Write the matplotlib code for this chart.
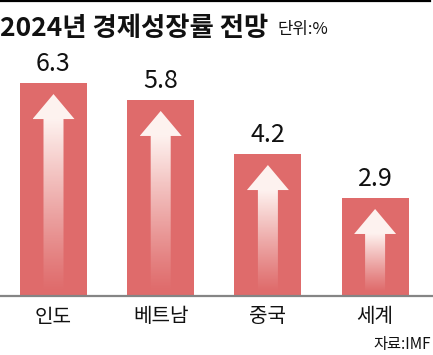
import numpy as np
import matplotlib
matplotlib.use("Agg")
import matplotlib.pyplot as plt
from matplotlib.patches import Polygon

# data
countries = ["인도", "베트남", "중국", "세계"]
growth = [6.3, 5.8, 4.2, 2.9]
value_labels = ["6.3", "5.8", "4.2", "2.9"]

title = "2024년 경제성장률 전망"
unit = "단위:%"
source = "자료:IMF"

BAR = "#df6b6b"
KR = ["Noto Sans CJK KR", "DejaVu Sans"]

W, H = 433, 355
fig = plt.figure(figsize=(W / 100, H / 100), dpi=100)

# axes placed so that baseline sits at y=296px and 1 unit ~ 33.8px
base_px = 296
unit_px = 33.8
ymax = 7.0
ax = fig.add_axes([0, (H - base_px) / H, 1, ymax * unit_px / H])
step = 107.2
x0 = 53.5
ax.set_xlim(-x0 / step, (W - x0) / step)
ax.set_ylim(0, ymax)
ax.axis("off")

xs = np.arange(len(countries))
bw = 67 / step
ax.bar(xs, growth, width=bw, color=BAR, zorder=2)

# gradient arrows inside bars
shaft_hw = 10 / step
head_hw = 21 / step
gap_top = 11 / unit_px
head_h = 25 / unit_px
bottom = 4 / unit_px
for x, h in zip(xs, growth):
    top = h - gap_top
    hb = top - head_h
    pts = [(x - shaft_hw, bottom), (x + shaft_hw, bottom), (x + shaft_hw, hb),
           (x + head_hw, hb), (x, top), (x - head_hw, hb), (x - shaft_hw, hb)]
    poly = Polygon(pts, closed=True, facecolor="none", edgecolor="none",
                   transform=ax.transData)
    ax.add_patch(poly)
    n = 200
    yy = np.linspace(0, 1, n)  # 0 at bottom
    alpha = np.clip((yy * (top - bottom)) / (hb - bottom), 0, 1) ** 1.1
    img = np.ones((n, 2, 4))
    img[:, :, 1] = 0.97
    img[:, :, 2] = 0.96
    img[:, :, 3] = (alpha * 0.97)[:, None]
    im = ax.imshow(img, extent=[x - head_hw, x + head_hw, bottom, top],
                   origin="lower", aspect="auto", interpolation="bilinear",
                   zorder=3)
    im.set_clip_path(poly)

# value labels
for x, h, lab in zip(xs, growth, value_labels):
    ax.text(x, h + 19 / unit_px, lab, ha="center", va="center",
            fontsize=18, family=KR, color="#111111", zorder=4)

# category labels
for x, c in zip(xs, countries):
    ax.text(x, -21 / unit_px, c, ha="center", va="center", fontsize=14.5,
            family=KR, color="#111111", clip_on=False)

# baseline
fig.add_artist(plt.Line2D([0, 1], [(H - base_px) / H] * 2, color="#858585",
                          lw=1.6, transform=fig.transFigure))
# top rule
fig.add_artist(plt.Line2D([0, 430 / W], [1 - 1 / H] * 2, color="black",
                          lw=1.6, transform=fig.transFigure))

# title
fig.text(0 / W, 1 - 36 / H, title, ha="left", va="baseline", fontsize=19,
         family=KR, weight="bold", color="#111111")
fig.text(277 / W, 1 - 34 / H, unit, ha="left", va="baseline", fontsize=12,
         family=KR, color="#111111")
fig.text(431 / W, 1 - 349 / H, source, ha="right", va="baseline",
         fontsize=11, family=KR, color="#111111")

fig.savefig("out.png", dpi=100)
